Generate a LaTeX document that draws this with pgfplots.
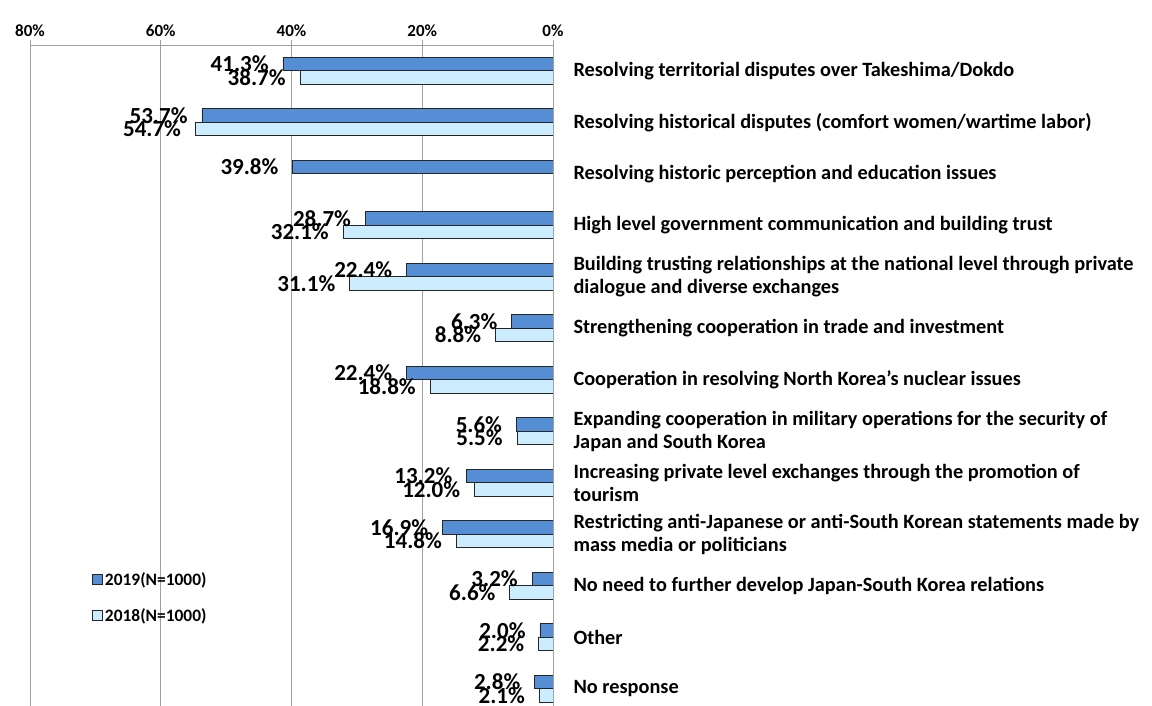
\documentclass[border=0pt]{standalone}
\usepackage{fontspec}
\setmainfont{Carlito}
\usepackage{pgfplots}
\pgfplotsset{compat=1.18}
\definecolor{c19}{RGB}{85,142,213}
\definecolor{c18}{RGB}{204,236,255}
\definecolor{gridc}{RGB}{160,160,160}
\begin{document}
\bfseries
\begin{tikzpicture}
\path[use as bounding box] (0,0) rectangle (1152pt,706pt);
\begin{axis}[
  at={(30pt,661pt)}, anchor=north west,
  scale only axis, width=523pt, height=669.5pt,
  xbar, x dir=reverse, y dir=reverse,
  xmin=0, xmax=80, ymin=-0.5, ymax=12.5,
  bar width=13.5pt,
  xtick={0,20,40,60,80},
  xticklabel pos=upper,
  xticklabel={\pgfmathprintnumber{\tick}\%},
  xticklabel style={font=\fontsize{17}{17}\selectfont\bfseries},
  tick align=outside, major tick length=5pt,
  xtick style={gridc, line width=0.8pt},
  xmajorgrids, grid style={gridc, line width=0.8pt},
  axis line style={gridc, line width=0.8pt},
  ytick={0,...,12}, ytick style={draw=none},
  yticklabel pos=right,
  yticklabel style={font=\fontsize{20.3}{23}\selectfont\bfseries, align=left, anchor=west},
  tick label style={/pgf/number format/assume math mode=true},
  yticklabels={
    Resolving territorial disputes over Takeshima/Dokdo,
    Resolving historical disputes (comfort women/wartime labor),
    Resolving historic perception and education issues,
    High level government communication and building trust,
    {Building trusting relationships at the national level through private\\dialogue and diverse exchanges},
    Strengthening cooperation in trade and investment,
    Cooperation in resolving North Korea's nuclear issues,
    {Expanding cooperation in military operations for the security of\\Japan and South Korea},
    {Increasing private level exchanges through the promotion of\\tourism},
    {Restricting anti-Japanese or anti-South Korean statements made by\\mass media or politicians},
    No need to further develop Japan-South Korea relations,
    Other,
    No response},
  yticklabel style={xshift=12pt},
  point meta=x,
  nodes near coords={\pgfmathprintnumber[fixed,fixed zerofill,precision=1,assume math mode=true]{\pgfplotspointmeta}\%},
  nodes near coords style={font=\fontsize{23}{23}\selectfont\bfseries, anchor=east, xshift=-14pt, inner sep=0pt},
  legend style={at={(0.1185,0.216)}, anchor=north west, draw=none, fill=none,
    font=\fontsize{17.4}{17.4}\selectfont\bfseries, row sep=18pt, inner sep=0pt,
    /tikz/every even column/.append style={column sep=2pt}},
  legend cell align=left,
  legend image code/.code={\draw[#1, line width=0.8pt] (0pt,-5pt) rectangle (10pt,5pt);},
]
\addplot[draw=black!85, line width=0.8pt, fill=c19, bar shift=6.75pt] coordinates {
(41.3,0) (53.7,1) (39.8,2) (28.7,3) (22.4,4) (6.3,5) (22.4,6) (5.6,7) (13.2,8) (16.9,9) (3.2,10) (2.0,11) (2.8,12)};
\addlegendentry{2019(N=1000)}
\addplot[draw=black!85, line width=0.8pt, fill=c18, bar shift=-6.75pt] coordinates {
(38.7,0) (54.7,1) (32.1,3) (31.1,4) (8.8,5) (18.8,6) (5.5,7) (12.0,8) (14.8,9) (6.6,10) (2.2,11) (2.1,12)};
\addlegendentry{2018(N=1000)}
\end{axis}
\end{tikzpicture}
\end{document}
